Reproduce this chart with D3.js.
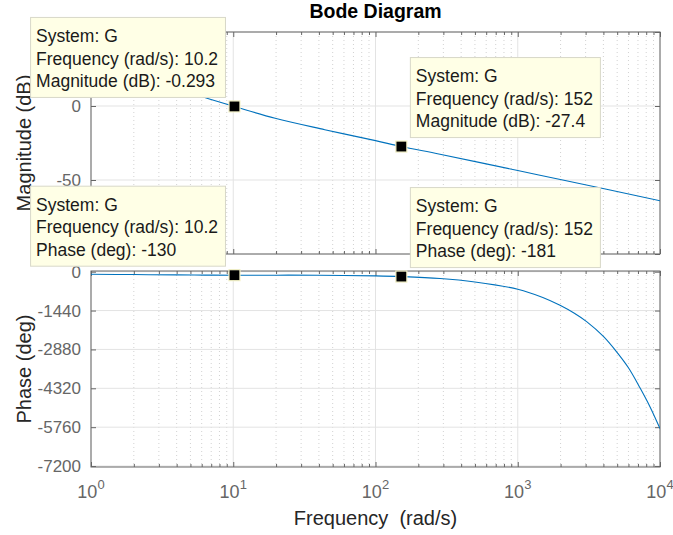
<!DOCTYPE html>
<html>
<head>
<meta charset="utf-8">
<script src="https://cdn.jsdelivr.net/npm/d3@7"></script>
<style>
  body { margin: 0; background: #fff; }
  svg { font-family: "Liberation Sans", Arial, sans-serif; }
</style>
</head>
<body>
<svg id="chart" width="673" height="535"></svg>
<script>
// values
const magFreqs = [1, 2, 4, 6.3, 10.2, 19.7, 44, 100, 152, 284, 1000, 2070, 10000];
const magDb = [27, 20.5, 12, 5.8, -0.293, -8.3, -16.0, -23.4, -27.4, -32.6, -43.6, -50, -64];

const phaseFreqs = [1, 2, 4, 6.3, 10.2, 20, 40, 100, 152, 284, 500, 1000, 1500, 1982,
                    2500, 3050, 4000, 4955, 6000, 7230, 8500, 10000];
const phaseDeg = [-98, -107, -120, -127, -130, -130, -131, -156, -181, -251, -381, -650, -955, -1245,
                  -1540, -1852, -2400, -2970, -3560, -4300, -5000, -5812];

const tipFreqs = [10.2, 152];
const tipFreqLabels = ['10.2', '152'];
const tipMag = [-0.293, -27.4];
const tipMagLabels = ['-0.293', '-27.4'];
const tipPhase = [-130, -181];
const tipPhaseLabels = ['-130', '-181'];

const decadeExps = [0, 1, 2, 3, 4];
const magTicks = [50, 0, -50, -100];
const magTickLabels = ['', '0', '-50', ''];   // 50 and -100 sit under the data tips
const phaseTicks = [0, -1440, -2880, -4320, -5760, -7200];
const phaseTickLabels = ['0', '-1440', '-2880', '-4320', '-5760', '-7200'];

const lineColor = '#0072bd';
const axisColor = '#666';
const labelColor = '#262626';

const left = 91, right = 660;
const mag = { top: 32, bottom: 254 };
const ph = { top: 271, bottom: 467 };

const svg = d3.select('#chart');

const xScale = d3.scaleLog([1, 1e4], [left, right]);
const yMag = d3.scaleLinear([-100, 50], [mag.bottom, mag.top]);
const yPh = d3.scaleLinear([-7235, 25], [ph.bottom, ph.top]);

const decades = decadeExps.map(e => Math.pow(10, e));
const minors = [];
decades.slice(0, -1).forEach(d => {
  for (let k = 2; k <= 9; k++) minors.push(k * d);
});

function drawPanel(box, yScale, yTicks, yLabels, name) {
  let g = svg.append('g').attr('class', 'panel ' + name);

  // grid
  g.append('g').selectAll('line')
    .data(minors)
    .join('line')
    .attr('x1', d => xScale(d)).attr('x2', d => xScale(d))
    .attr('y1', box.top).attr('y2', box.bottom)
    .attr('stroke', '#d2d2d2')
    .attr('stroke-dasharray', '1,3');

  g.append('g').selectAll('line')
    .data(decades)
    .join('line')
    .attr('x1', d => xScale(d)).attr('x2', d => xScale(d))
    .attr('y1', box.top).attr('y2', box.bottom)
    .attr('stroke', '#e3e3e3');

  g.append('g').selectAll('line')
    .data(yTicks)
    .join('line')
    .attr('x1', left).attr('x2', right)
    .attr('y1', d => yScale(d)).attr('y2', d => yScale(d))
    .attr('stroke', '#e3e3e3');

  // inward ticks on all four sides
  const tickStyle = sel => {
    sel.select('.domain').remove();
    sel.selectAll('line').attr('stroke', axisColor);
    sel.selectAll('text').remove();
  };
  g.append('g').attr('transform', `translate(0,${box.bottom})`)
    .call(d3.axisBottom(xScale).tickValues(minors).tickSize(-3)).call(tickStyle);
  g.append('g').attr('transform', `translate(0,${box.bottom})`)
    .call(d3.axisBottom(xScale).tickValues(decades).tickSize(-5)).call(tickStyle);
  g.append('g').attr('transform', `translate(0,${box.top})`)
    .call(d3.axisTop(xScale).tickValues(minors).tickSize(-3)).call(tickStyle);
  g.append('g').attr('transform', `translate(0,${box.top})`)
    .call(d3.axisTop(xScale).tickValues(decades).tickSize(-5)).call(tickStyle);
  g.append('g').attr('transform', `translate(${right},0)`)
    .call(d3.axisRight(yScale).tickValues(yTicks).tickSize(-5)).call(tickStyle);

  let yAxis = g.append('g').attr('transform', `translate(${left},0)`)
    .call(d3.axisLeft(yScale).tickValues(yTicks).tickSize(-5).tickPadding(10)
            .tickFormat((d, i) => yLabels[i]));
  yAxis.select('.domain').remove();
  yAxis.selectAll('line').attr('stroke', axisColor);
  yAxis.selectAll('text')
    .attr('fill', axisColor)
    .attr('font-size', 17)
    .attr('font-family', '"Liberation Sans", Arial, sans-serif');

  g.append('rect')
    .attr('x', left).attr('y', box.top)
    .attr('width', right - left).attr('height', box.bottom - box.top)
    .attr('fill', 'none')
    .attr('stroke', axisColor);

  // clip for the curve
  svg.append('clipPath').attr('id', 'clip-' + name)
    .append('rect')
    .attr('x', left).attr('y', box.top)
    .attr('width', right - left).attr('height', box.bottom - box.top);

  return g;
}

let magPanel = drawPanel(mag, yMag, magTicks, magTickLabels, 'mag');
let phPanel = drawPanel(ph, yPh, phaseTicks, phaseTickLabels, 'ph');

// curves
const magLine = d3.line()
  .x(d => xScale(d[0])).y(d => yMag(d[1]))
  .curve(d3.curveCatmullRom.alpha(0.5));
const phLine = d3.line()
  .x(d => xScale(d[0])).y(d => yPh(d[1]))
  .curve(d3.curveCatmullRom.alpha(0.5));

magPanel.append('path')
  .datum(d3.zip(magFreqs, magDb))
  .attr('clip-path', 'url(#clip-mag)')
  .attr('d', magLine)
  .attr('fill', 'none')
  .attr('stroke', lineColor)
  .attr('stroke-width', 1.1);

phPanel.append('path')
  .datum(d3.zip(phaseFreqs, phaseDeg))
  .attr('clip-path', 'url(#clip-ph)')
  .attr('d', phLine)
  .attr('fill', 'none')
  .attr('stroke', lineColor)
  .attr('stroke-width', 1.1);

// x tick labels 10^n under the phase panel
let xLabels = svg.append('g').selectAll('text')
  .data(decadeExps)
  .join('text')
  .attr('x', d => xScale(Math.pow(10, d)))
  .attr('y', 498)
  .attr('text-anchor', 'middle')
  .attr('fill', axisColor)
  .attr('font-size', 18);
xLabels.append('tspan').text('10');
xLabels.append('tspan').attr('dy', -9).attr('font-size', 13).text(d => d);

// titles
svg.append('text')
  .attr('x', (left + right) / 2).attr('y', 18)
  .attr('text-anchor', 'middle')
  .attr('font-size', 19.5)
  .attr('font-weight', 'bold')
  .attr('fill', '#000')
  .text('Bode Diagram');

svg.append('text')
  .attr('x', (left + right) / 2).attr('y', 525)
  .attr('text-anchor', 'middle')
  .attr('font-size', 20)
  .attr('fill', labelColor)
  .style('white-space', 'pre')
  .text('Frequency  (rad/s)');

svg.append('text')
  .attr('transform', `translate(31,${(mag.top + mag.bottom) / 2}) rotate(-90)`)
  .attr('text-anchor', 'middle')
  .attr('font-size', 20)
  .attr('fill', labelColor)
  .text('Magnitude (dB)');

svg.append('text')
  .attr('transform', `translate(31,${(ph.top + ph.bottom) / 2}) rotate(-90)`)
  .attr('text-anchor', 'middle')
  .attr('font-size', 20)
  .attr('fill', labelColor)
  .text('Phase (deg)');

// data tips
function dataTip(px, py, side, lines) {
  let g = svg.append('g').attr('class', 'datatip');
  g.append('rect')
    .attr('x', px - 5.5).attr('y', py - 5.5)
    .attr('width', 11).attr('height', 11)
    .attr('fill', '#000')
    .attr('stroke', '#f4f2c8')
    .attr('stroke-width', 1.2);

  let box = g.append('g');
  let rect = box.append('rect')
    .attr('fill', '#ffffe6')
    .attr('stroke', '#d8d8c8');
  let texts = box.selectAll('text')
    .data(lines)
    .join('text')
    .attr('x', 5.5)
    .attr('y', (d, i) => 24.4 + i * 22.7)
    .attr('font-size', 17.5)
    .attr('fill', '#1a1a1a')
    .text(d => d);

  let w = d3.max(texts.nodes(), n => n.getComputedTextLength()) + 13;
  let h = 80;
  rect.attr('width', w).attr('height', h);

  let bx = side === 'left' ? px - 9 - w : px + 9;
  let by = py - 9 - h;
  box.attr('transform', `translate(${bx},${by})`);
}

tipFreqs.forEach((f, i) => {
  let side = i === 0 ? 'left' : 'right';
  dataTip(xScale(f), yMag(tipMag[i]), side,
          ['System: G', `Frequency (rad/s): ${tipFreqLabels[i]}`, `Magnitude (dB): ${tipMagLabels[i]}`]);
  dataTip(xScale(f), yPh(tipPhase[i]), side,
          ['System: G', `Frequency (rad/s): ${tipFreqLabels[i]}`, `Phase (deg): ${tipPhaseLabels[i]}`]);
});
</script>
</body>
</html>
